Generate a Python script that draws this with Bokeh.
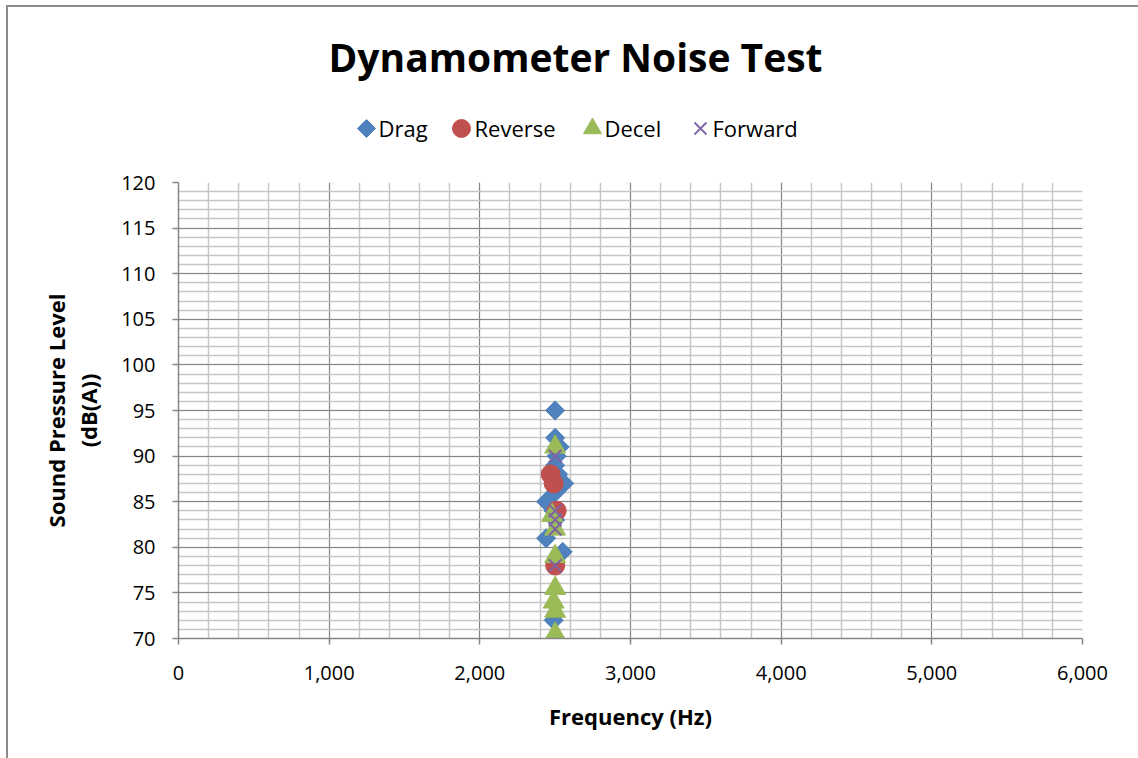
import math

from bokeh.embed import file_html
from bokeh.layouts import column
from bokeh.models import (InlineStyleSheet, Label, NumeralTickFormatter, Range1d,
                          SingleIntervalTicker)
from bokeh.plotting import figure
from bokeh.resources import INLINE

# Measured peak frequency (Hz) and sound pressure level (dB(A)) per operating mode
drag_hz = [2500, 2500, 2530, 2510, 2500, 2520, 2560, 2500, 2440, 2490, 2500, 2440, 2550, 2490]
drag_db = [95, 92, 91, 90, 89, 88, 87, 86, 85, 84, 83, 81, 79.5, 72]

reverse_hz = [2470, 2490, 2510, 2500]
reverse_db = [88, 87, 84, 78]

decel_hz = [2500, 2480, 2500, 2500, 2500, 2490, 2500, 2500]
decel_db = [91, 83.5, 82, 79, 75.5, 74, 73, 70.5]

forward_hz = [2500, 2500, 2500, 2500, 2500]
forward_db = [90, 84, 83, 82, 78]

series_names = ["Drag", "Reverse", "Decel", "Forward"]
x_ticks = [0, 1000, 2000, 3000, 4000, 5000, 6000]
y_ticks = [70, 75, 80, 85, 90, 95, 100, 105, 110, 115, 120]

FONT = "Open Sans"
BLUE, RED, GREEN, PURPLE = "#4F81BD", "#C0504D", "#9BBB59", "#8064A2"
MAJOR, MINOR = "#868686", "#C6C6C6"

W, H = 1138, 758
LEFT, RIGHT = 178, 56
HEADER_H = 160
PLOT_TOP = 182 - HEADER_H           # space above the 120 grid line in the lower figure

# ---------------------------------------------------------------- header
# a bare canvas whose data units are page pixels (y grows downward) for title and key;
# the column aligns its frame with the scatter plot's frame, hence the x range
header = figure(
    width=W, height=HEADER_H, output_backend="svg", toolbar_location=None,
    x_range=Range1d(LEFT, W - RIGHT), y_range=Range1d(HEADER_H, 0),
    x_axis_type=None, y_axis_type=None, title=None,
    min_border_left=LEFT, min_border_right=RIGHT, min_border_top=0, min_border_bottom=0,
)
header.outline_line_color = None
header.background_fill_color = "white"
header.border_fill_color = "white"

header.add_layout(Label(
    x=575, y=56, text="Dynamometer Noise Test",
    text_align="center", text_baseline="middle",
    text_font=FONT, text_font_style="bold", text_font_size="39px", text_color="black",
))

key_y = 128
key_marker_x = [366, 461, 592, 700]
key_label_x = [378, 474, 604, 712]
header.scatter([key_marker_x[0]], [key_y], marker="square", size=12.7, angle=math.pi / 4,
               fill_color=BLUE, line_color=BLUE)
header.scatter([key_marker_x[1]], [key_y], marker="circle", size=18,
               fill_color=RED, line_color=RED)
header.scatter([key_marker_x[2]], [key_y], marker="triangle", size=18,
               fill_color=GREEN, line_color=GREEN)
header.scatter([key_marker_x[3]], [key_y], marker="x", size=17,
               line_color=PURPLE, line_width=1.8)
for name, lx in zip(series_names, key_label_x):
    header.add_layout(Label(
        x=lx, y=key_y - 1, text=name, text_align="left", text_baseline="middle",
        text_font=FONT, text_font_size="22px", text_color="black",
    ))

# ---------------------------------------------------------------- scatter plot
p = figure(
    width=W, height=H - HEADER_H, output_backend="svg", toolbar_location=None,
    x_range=Range1d(x_ticks[0], x_ticks[-1]), y_range=Range1d(y_ticks[0], y_ticks[-1]),
    title=None, min_border_left=LEFT, min_border_right=RIGHT, min_border_top=PLOT_TOP,
    min_border_bottom=120,
)
p.outline_line_color = None
p.background_fill_color = "white"
p.border_fill_color = "white"

p.xaxis.ticker = SingleIntervalTicker(interval=1000, num_minor_ticks=5)
p.yaxis.ticker = SingleIntervalTicker(interval=5, num_minor_ticks=5)
p.xaxis.formatter = NumeralTickFormatter(format="0,0")
for ax in (p.xaxis, p.yaxis):
    ax.axis_line_color = MAJOR
    ax.axis_line_width = 1.5
    ax.major_tick_line_color = MAJOR
    ax.major_tick_line_width = 1.5
    ax.major_tick_out = 6
    ax.major_tick_in = 0
    ax.minor_tick_out = 0
    ax.minor_tick_in = 0
    ax.major_label_text_font = FONT
    ax.major_label_text_font_size = "20px"
    ax.major_label_text_color = "black"
    ax.axis_label_text_font = FONT
    ax.axis_label_text_font_style = "bold"
    ax.axis_label_text_font_size = "22px"
    ax.axis_label_text_color = "black"

p.xaxis.major_label_standoff = 21
p.yaxis.major_label_standoff = 17
p.xaxis.axis_label = "Frequency (Hz)"
p.xaxis.axis_label_standoff = 18
p.yaxis.axis_label = "Sound Pressure Level\n(dB(A))"
p.yaxis.axis_label_text_line_height = 1.07
p.yaxis.axis_label_standoff = 15

# grid: darker major lines, light minor lines
for g in (p.xgrid, p.ygrid):
    g.grid_line_color = MAJOR
    g.grid_line_width = 1
    g.minor_grid_line_color = MINOR
    g.minor_grid_line_width = 1.5

p.scatter(drag_hz, drag_db, marker="square", size=13.5, angle=math.pi / 4,
          fill_color=BLUE, line_color=BLUE)
p.scatter(reverse_hz, reverse_db, marker="circle", size=19,
          fill_color=RED, line_color=RED)
p.scatter(decel_hz, decel_db, marker="triangle", size=21,
          fill_color=GREEN, line_color=GREEN)
p.scatter(forward_hz, forward_db, marker="x", size=18,
          line_color=PURPLE, line_width=2)

# thin grey chart-area border along the top and left edges
chart_border = InlineStyleSheet(css="""
:host { position: relative; }
:host::after {
  content: "";
  position: absolute;
  left: 6px; top: 5px; right: -20px; bottom: -20px;
  border: 2px solid #8a8a8a;
  pointer-events: none;
  z-index: 10;
}
""")

page = column(header, p, spacing=0, stylesheets=[chart_border])

open("out.html", "w").write(file_html(page, INLINE))
